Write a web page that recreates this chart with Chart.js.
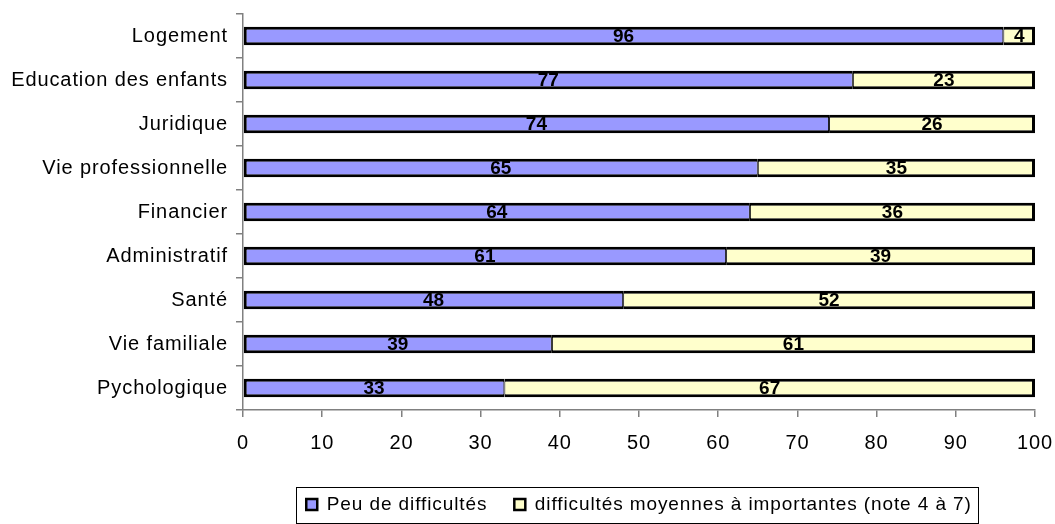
<!DOCTYPE html>
<html>
<head>
<meta charset="utf-8">
<script src="https://cdn.jsdelivr.net/npm/chart.js@4/dist/chart.umd.min.js"></script>
<style>
  html, body { margin: 0; padding: 0; background: #fff; }
  #wrap { width: 1055px; height: 524px; }
</style>
</head>
<body>
<div id="wrap"><canvas id="chart" width="1055" height="524"></canvas></div>
<script>
const categories = [
  "Logement",
  "Education des enfants",
  "Juridique",
  "Vie professionnelle",
  "Financier",
  "Administratif",
  "Santé",
  "Vie familiale",
  "Pychologique"
];
const peuDifficultes = [96, 77, 74, 65, 64, 61, 48, 39, 33];
const difficultesMoyennes = [4, 23, 26, 35, 36, 39, 52, 61, 67];
const xTicks = [0, 10, 20, 30, 40, 50, 60, 70, 80, 90, 100];

const FONT = "'Liberation Sans', Arial, sans-serif";

// texte un peu plus espacé, comme dans l'original
const spacing = {
  id: "spacing",
  beforeInit(chart) { chart.ctx.letterSpacing = "0.9px"; },
  beforeUpdate(chart) { chart.ctx.letterSpacing = "0.9px"; },
  beforeDraw(chart) { chart.ctx.letterSpacing = "0.9px"; }
};

// étiquettes de valeur au centre de chaque segment
const valueLabels = {
  id: "valueLabels",
  afterDatasetsDraw(chart) {
    const ctx = chart.ctx;
    ctx.save();
    ctx.letterSpacing = "0px";
    ctx.font = "bold 19px " + FONT;
    ctx.fillStyle = "#000";
    ctx.textAlign = "center";
    ctx.textBaseline = "middle";
    chart.data.datasets.forEach((ds, i) => {
      chart.getDatasetMeta(i).data.forEach((bar, j) => {
        const p = bar.getCenterPoint();
        ctx.fillText(String(ds.data[j]), p.x, p.y + 1);
      });
    });
    ctx.restore();
  }
};

// cadre autour de la légende, centrée sous la zone de tracé
const legendFrame = {
  id: "legendFrame",
  afterLayout(chart) {
    const lg = chart.legend;
    const shift = (chart.chartArea.left + chart.chartArea.right) / 2 - (lg.left + lg.right) / 2;
    lg.left += shift;
    lg.right += shift;
  },
  afterDraw(chart) {
    const boxes = chart.legend.legendHitBoxes;
    if (!boxes || !boxes.length) return;
    const l = Math.min(...boxes.map(b => b.left)) - 10;
    const r = Math.max(...boxes.map(b => b.left + b.width)) + 7;
    const t = boxes[0].top - 8;
    const h = boxes[0].height + 17;
    const ctx = chart.ctx;
    ctx.save();
    ctx.strokeStyle = "#000";
    ctx.lineWidth = 1;
    ctx.strokeRect(Math.round(l) + 0.5, Math.round(t) + 0.5, Math.round(r - l), Math.round(h));
    ctx.restore();
  }
};

new Chart(document.getElementById("chart"), {
  type: "bar",
  data: {
    labels: categories,
    datasets: [
      {
        label: "Peu de difficultés",
        data: peuDifficultes,
        backgroundColor: "#9999FF",
        borderColor: "#000",
        borderWidth: { top: 3, bottom: 3, left: 3, right: 1 },
        borderSkipped: false
      },
      {
        label: "difficultés moyennes à importantes (note 4 à 7)",
        data: difficultesMoyennes,
        backgroundColor: "#FFFFCC",
        borderColor: "#000",
        borderWidth: { top: 3, bottom: 3, left: 1, right: 3 },
        borderSkipped: false
      }
    ]
  },
  options: {
    indexAxis: "y",
    responsive: false,
    animation: false,
    barPercentage: 0.42,
    categoryPercentage: 1,
    layout: { padding: { top: 14, right: 20, left: 0, bottom: 0 } },
    scales: {
      x: {
        stacked: true,
        min: 0,
        max: 100,
        afterBuildTicks: scale => { scale.ticks = xTicks.map(v => ({ value: v })); },
        afterFit: scale => {
          scale.height = 58;
          scale.paddingLeft = 0;
          scale.paddingRight = 0;
        },
        grid: { drawOnChartArea: false, drawTicks: true, tickLength: 7, color: "#808080", lineWidth: 1.5 },
        border: { color: "#808080", width: 1.5 },
        ticks: { color: "#000", padding: 14, maxRotation: 0, font: { family: FONT, size: 20 } }
      },
      y: {
        stacked: true,
        afterFit: scale => {
          scale.width = 243;
          scale.paddingTop = 0;
          scale.paddingBottom = 0;
        },
        grid: { drawOnChartArea: false, drawTicks: true, tickLength: 7, color: "#808080", lineWidth: 1.5 },
        border: { color: "#808080", width: 1.5 },
        ticks: { color: "#000", padding: 8, font: { family: FONT, size: 20 } }
      }
    },
    plugins: {
      tooltip: { enabled: false },
      legend: {
        position: "bottom",
        labels: {
          color: "#000",
          boxWidth: 11,
          boxHeight: 11,
          padding: 27,
          font: { family: FONT, size: 19 }
        }
      }
    }
  },
  plugins: [spacing, valueLabels, legendFrame]
});
</script>
</body>
</html>
